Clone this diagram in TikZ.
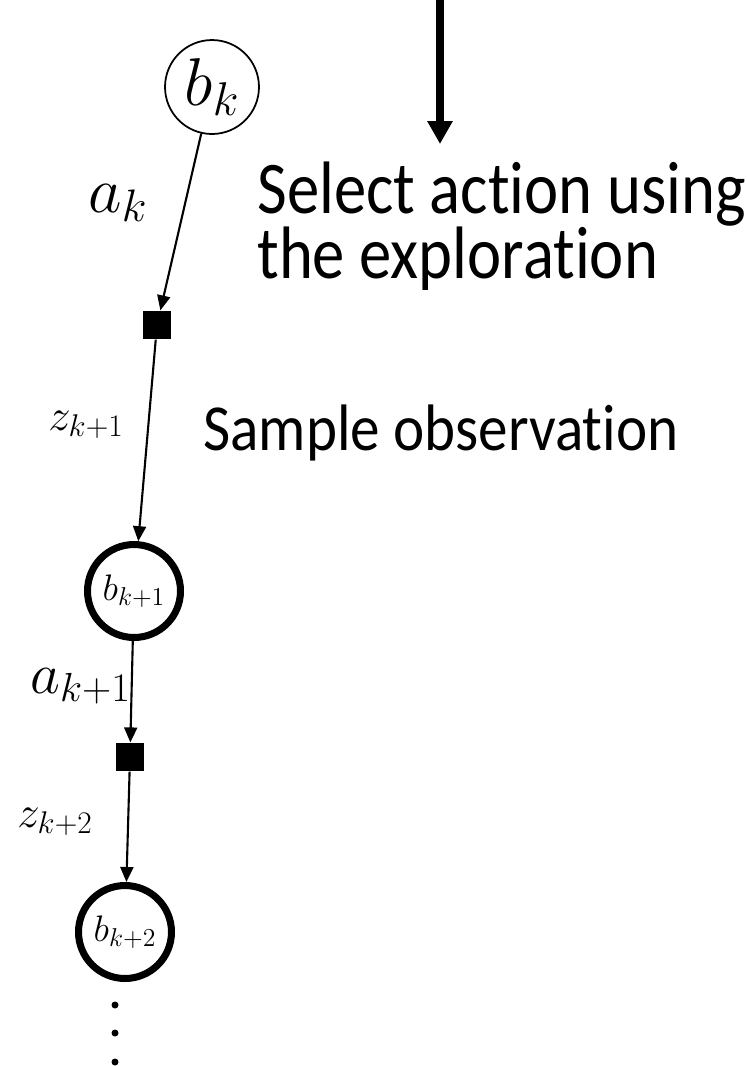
\RequirePackage{fix-cm}
\documentclass[tikz,border=0pt]{standalone}
\usepackage{amsmath}
\usepackage{amssymb}
\usepackage[no-math]{fontspec}
\setmainfont{Carlito}[Ligatures={NoCommon,NoContextual}]
\usepackage{tikz}
\usetikzlibrary{arrows.meta}

\newcommand{\narrow}[2][0.87]{\scalebox{#1}[1]{#2}}

\begin{document}
\begin{tikzpicture}[x=0.02cm, y=-0.02cm,
    belief/.style={circle, draw, inner sep=0pt, minimum size=1.86cm, line width=4pt},
    act/.style={fill, inner sep=0pt, minimum size=0.57cm},
    edge/.style={line width=1.2pt, -{Triangle[length=0.3cm, width=0.26cm]}},
    lbl/.style={anchor=base west, inner sep=0pt}]
    \useasboundingbox (0,0) rectangle (747,1066);

    \node[belief, line width=1pt, minimum size=1.88cm, font=\fontsize{38.5}{44}\selectfont] (bk) at (212,87) {$b_k$};
    \node[act] (s1) at (157,325) {};
    \node[belief, font=\fontsize{21}{25}\selectfont] (bk1) at (134,591) {$b_{k+1}$};
    \node[act] (s2) at (130,757) {};
    \node[belief, font=\fontsize{21}{25}\selectfont] (bk2) at (125,932) {$b_{k+2}$};

    \draw[edge] (bk) -- (s1);
    \draw[edge] (s1) -- (bk1);
    \draw[edge] (bk1) -- (s2);
    \draw[edge] (s2) -- (bk2);

    \node[lbl, font=\fontsize{37}{40}\selectfont] (ak) at (88,212) {$a_k$};
    \node[lbl, font=\fontsize{25.5}{30}\selectfont] (zk1) at (48,430) {$z_{k+1}$};
    \node[lbl, font=\fontsize{33}{38}\selectfont] (ak1) at (30,693) {$a_{k+1}$};
    \node[lbl, font=\fontsize{25.5}{30}\selectfont] (zk2) at (17,827) {$z_{k+2}$};

    \foreach \y in {1005,1033,1062}
        \fill (115,\y) circle (3.5);

    \coordinate (top) at (440,0);
    \coordinate (tip) at (440,144);
    \draw[line width=4pt, -{Triangle[length=0.46cm, width=0.48cm]}] (top) -- (tip);

    \node[lbl, align=left, font={\fontsize{42.3}{36.9}\selectfont\lineskiplimit=-50pt}] (sel) at (257,278) {\narrow{Select action using}\\\narrow{the exploration}};
    \node[lbl, font=\fontsize{37.4}{44}\selectfont] (obs) at (203,450) {\narrow[0.9]{Sample observation}};
\end{tikzpicture}
\end{document}
